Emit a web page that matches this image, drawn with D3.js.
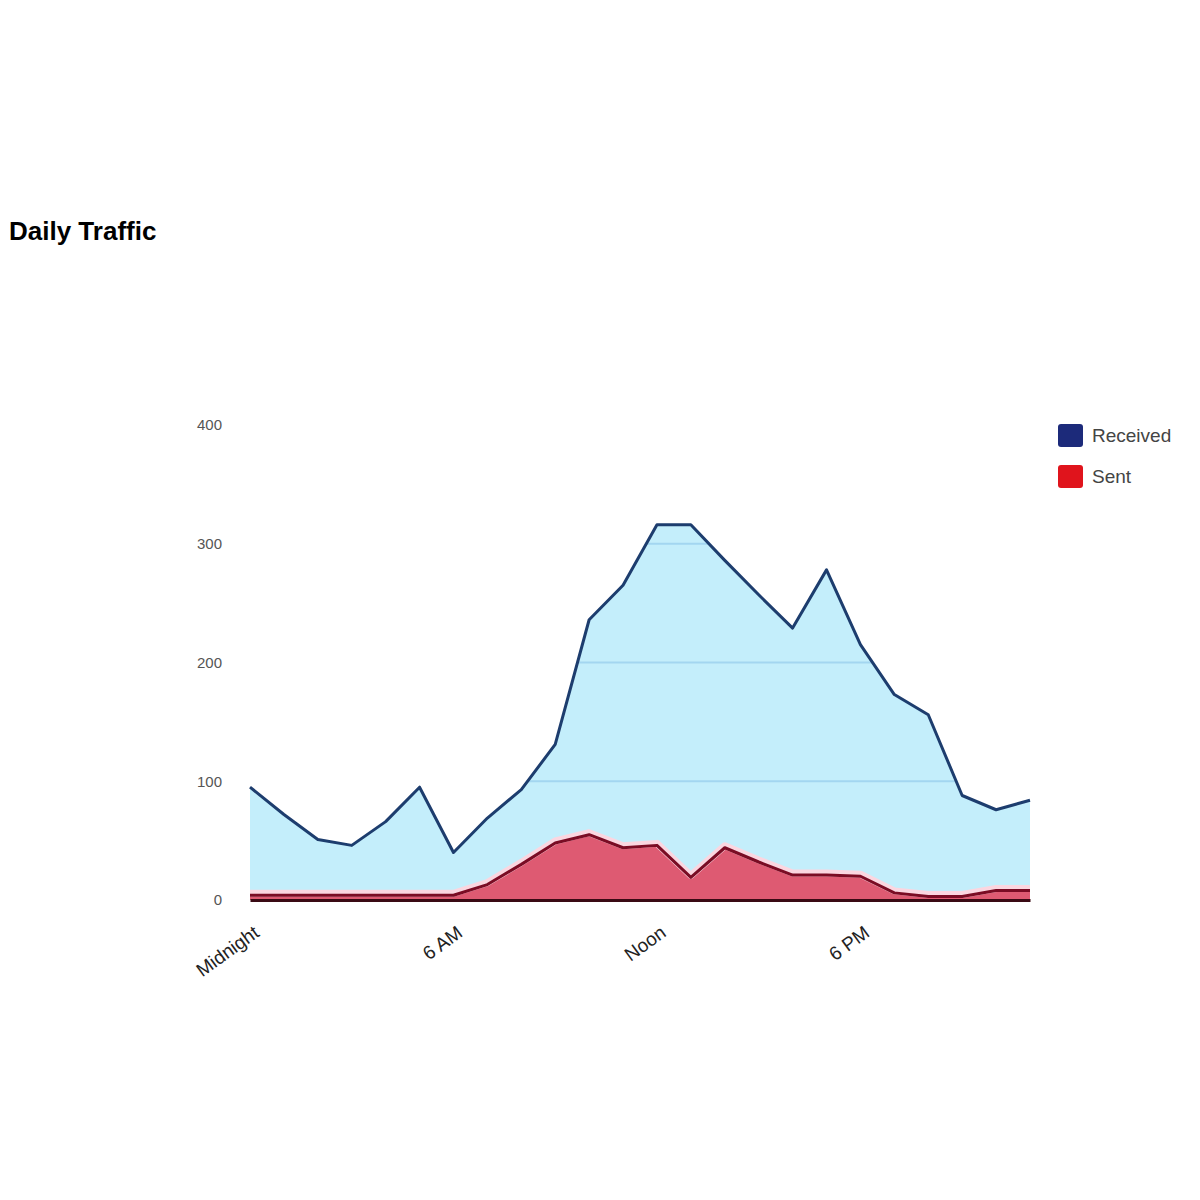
<html>
<head>
  <meta charset="utf-8">
  <title>Daily Traffic</title>
  <style>
    body {
      margin: 0;
      padding: 0;
      background: #fff;
      font-family: "Liberation Sans", Arial, sans-serif;
    }
    .title {
      font-size: 26px;
      font-weight: bold;
      fill: #000;
    }
    .yaxis .tick text {
      font-size: 15px;
      fill: #555;
    }
    .xaxis .tick text {
      font-size: 19px;
      fill: #222;
    }
    .legend text {
      font-size: 19px;
      fill: #444;
    }
  </style>
</head>
<body>
  <div id="chart"></div>

  <script src="https://cdn.jsdelivr.net/npm/d3@7/dist/d3.min.js"></script>
  <script>
    // hours of the day, 0 = midnight
    var hours = d3.range(0, 24);
    var received = [95, 72, 51, 46, 66, 95, 40, 69, 93, 131, 236, 265, 316, 316, 286, 257, 229, 278, 215, 173, 156, 88, 76, 84];
    var sent = [4, 4, 4, 4, 4, 4, 4, 13, 30, 48, 55, 44, 46, 19, 44, 32, 21, 21, 20, 6, 3, 3, 8, 8];
    var yTicks = [0, 100, 200, 300, 400];
    var xTicks = [0, 6, 12, 18];
    var xTickLabels = ["Midnight", "6 AM", "Noon", "6 PM"];
    var seriesNames = ["Received", "Sent"];
    var legendColors = ["#1c2a7a", "#e0141c"];

    var width = 1200,
      height = 1200;

    var svg = d3.select("#chart")
      .append("svg")
      .attr("width", width)
      .attr("height", height);

    svg.append("text")
      .attr("class", "title")
      .attr("x", 9)
      .attr("y", 240)
      .text("Daily Traffic");

    // plot box
    var plotLeft = 250, plotRight = 1030, plotTop = 425, plotBottom = 900;

    var x = d3.scaleLinear().domain([0, 23]).range([plotLeft, plotRight]);
    var y = d3.scaleLinear().domain([0, 400]).range([plotBottom, plotTop]);

    var area = d3.area()
      .x(function(d, i) { return x(hours[i]); })
      .y0(y(0))
      .y1(function(d) { return y(d); });
    var line = d3.line()
      .x(function(d, i) { return x(hours[i]); })
      .y(function(d) { return y(d); });

    // blue area
    svg.append("path")
      .datum(received)
      .attr("d", area)
      .attr("fill", "#c4eefb");

    // gridlines only show through the filled area
    svg.append("clipPath")
      .attr("id", "recClip")
      .append("path")
      .datum(received)
      .attr("d", area);

    svg.append("g")
      .attr("clip-path", "url(#recClip)")
      .selectAll("line")
      .data(yTicks.slice(1))
      .enter()
      .append("line")
      .attr("x1", plotLeft)
      .attr("x2", plotRight)
      .attr("y1", function(d) { return y(d); })
      .attr("y2", function(d) { return y(d); })
      .attr("stroke", "#a3d6f0")
      .attr("stroke-width", 2);

    svg.append("path")
      .datum(received)
      .attr("d", line)
      .attr("fill", "none")
      .attr("stroke", "#1d3d6e")
      .attr("stroke-width", 3)
      .attr("stroke-linejoin", "round");

    // red area, with a pale halo on its edge
    svg.append("path")
      .datum(sent)
      .attr("d", area)
      .attr("fill", "#de5a72");

    svg.append("path")
      .datum(sent)
      .attr("d", line)
      .attr("fill", "none")
      .attr("stroke", "#fbd6e0")
      .attr("stroke-width", 7)
      .attr("stroke-linejoin", "round")
      .attr("transform", "translate(0,-2)");

    svg.append("path")
      .datum(sent)
      .attr("d", line)
      .attr("fill", "none")
      .attr("stroke", "#7a0c24")
      .attr("stroke-width", 3)
      .attr("stroke-linejoin", "round");

    // y axis, labels only
    var yAxis = svg.append("g")
      .attr("class", "yaxis")
      .attr("transform", "translate(" + plotLeft + ",0)")
      .call(d3.axisLeft(y).tickValues(yTicks).tickSize(0).tickPadding(28));
    yAxis.select(".domain").remove();

    // x axis
    var xAxis = svg.append("g")
      .attr("class", "xaxis")
      .attr("transform", "translate(0," + plotBottom + ")")
      .call(d3.axisBottom(x).tickValues(xTicks).tickSize(0)
        .tickFormat(function(d, i) { return xTickLabels[i]; }));
    xAxis.select(".domain")
      .attr("stroke", "#3a0a14")
      .attr("stroke-width", 3);
    xAxis.selectAll(".tick text")
      .attr("text-anchor", "end")
      .attr("x", 0)
      .attr("y", 0)
      .attr("dy", "0.35em")
      .attr("transform", "translate(6,30) rotate(-36)");

    // legend
    var legend = svg.append("g")
      .attr("class", "legend")
      .attr("transform", "translate(1058,424)");

    var items = legend.selectAll("g")
      .data(seriesNames)
      .enter()
      .append("g")
      .attr("transform", function(d, i) { return "translate(0," + (i * 41) + ")"; });

    items.append("rect")
      .attr("width", 25)
      .attr("height", 23)
      .attr("rx", 3)
      .attr("fill", function(d, i) { return legendColors[i]; });

    items.append("text")
      .attr("x", 34)
      .attr("y", 18)
      .text(function(d) { return d; });
  </script>
</body>
</html>
